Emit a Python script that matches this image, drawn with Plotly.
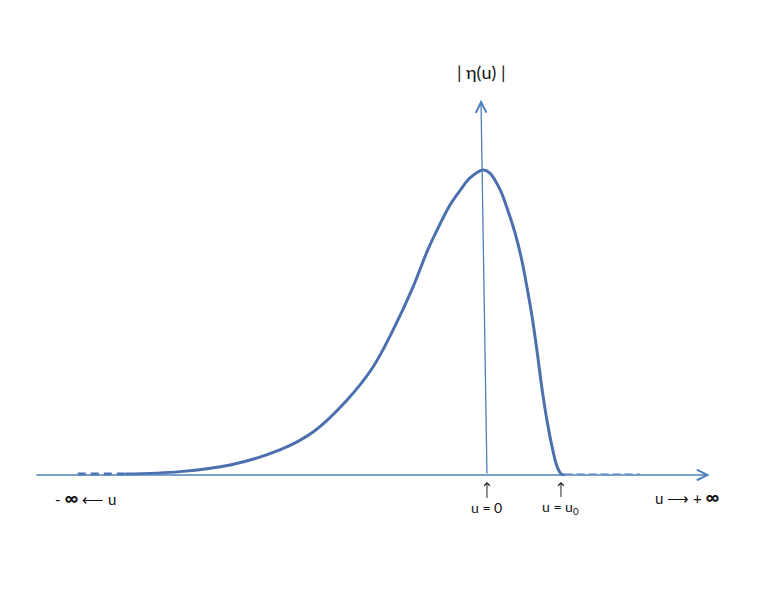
import plotly.graph_objects as go

# curve |eta(u)|, u0 = 1, peak height = 1
u_vals = [-4.89, -4.15, -3.47, -2.80, -2.35, -1.89, -1.54, -1.27, -1.00, -0.80,
          -0.64, -0.50, -0.36, -0.23, -0.05, 0.04, 0.18, 0.28, 0.38, 0.47,
          0.54, 0.61, 0.68, 0.74, 0.81, 0.88, 0.95, 1.01, 1.05]
eta_vals = [0.003, 0.011, 0.033, 0.082, 0.141, 0.246, 0.354, 0.475, 0.616, 0.738,
            0.820, 0.885, 0.934, 0.974, 1.000, 0.990, 0.934, 0.869, 0.793, 0.705,
            0.616, 0.518, 0.400, 0.289, 0.180, 0.092, 0.026, 0.002, 0.002]

# dashed tails towards -inf and +inf
tail_left_u = [-5.53, -4.89]
tail_left_eta = [0.003, 0.003]
tail_right_u = [1.05, 2.07]
tail_right_eta = [0.003, 0.003]

# axes ends
x_axis_u = [-6.11, 3.01]
y_axis_top = (-0.081, 1.23)

AXIS_COLOR = '#4f81bd'
CURVE_COLOR = '#4b70ad'
FONT = 'Lato, Liberation Sans, sans-serif'

fig = go.Figure()

fig.add_trace(go.Scatter(
    x=tail_left_u, y=tail_left_eta, mode='lines',
    line=dict(color=CURVE_COLOR, width=3, dash='8px,5px'),
    hoverinfo='skip'
))
fig.add_trace(go.Scatter(
    x=tail_right_u, y=tail_right_eta, mode='lines',
    line=dict(color='#9db8de', width=2, dash='8px,4px'),
    hoverinfo='skip'
))
fig.add_trace(go.Scatter(
    x=u_vals, y=eta_vals, mode='lines',
    line=dict(color=CURVE_COLOR, width=3, shape='spline', smoothing=1.0),
    hovertemplate='u=%{x}<br>|η|=%{y}<extra></extra>'
))

# horizontal axis with arrow
fig.add_annotation(
    x=x_axis_u[1], y=0, ax=x_axis_u[0], ay=0,
    xref='x', yref='y', axref='x', ayref='y',
    text='', showarrow=True, arrowhead=5, arrowsize=1.6, arrowwidth=1.3,
    arrowcolor=AXIS_COLOR
)
# vertical axis with arrow
fig.add_annotation(
    x=y_axis_top[0], y=y_axis_top[1], ax=0, ay=0,
    xref='x', yref='y', axref='x', ayref='y',
    text='', showarrow=True, arrowhead=5, arrowsize=1.6, arrowwidth=1.3,
    arrowcolor=AXIS_COLOR
)

# markers under the axis
fig.add_annotation(
    x=0, y=-0.023, ax=0, ay=-0.108,
    xref='x', yref='y', axref='x', ayref='y',
    text='u = 0', showarrow=True, arrowhead=4, arrowsize=1.1, arrowwidth=1,
    arrowcolor='#222222', font=dict(family=FONT, size=14, color='#111111')
)
fig.add_annotation(
    x=1.0, y=-0.023, ax=1.0, ay=-0.108,
    xref='x', yref='y', axref='x', ayref='y',
    text='u = u<sub>0</sub>', showarrow=True, arrowhead=4, arrowsize=1.1,
    arrowwidth=1, arrowcolor='#222222',
    font=dict(family=FONT, size=14, color='#111111')
)

fig.add_annotation(
    x=-5.43, y=-0.075, xref='x', yref='y', showarrow=False,
    text='- <span style="font-size:19px"><b>∞</b></span> ⟵ u',
    font=dict(family=FONT, size=15, color='#111111')
)
fig.add_annotation(
    x=2.71, y=-0.072, xref='x', yref='y', showarrow=False,
    text='u ⟶ + <span style="font-size:19px"><b>∞</b></span>',
    font=dict(family=FONT, size=15, color='#111111')
)
fig.add_annotation(
    x=-0.08, y=1.321, xref='x', yref='y', showarrow=False,
    text='| η(u) |', font=dict(family=FONT, size=18, color='#111111')
)

# the page body adds an 8px offset, the ranges below absorb it
fig.update_layout(
    width=776, height=599,
    margin=dict(l=0, r=0, t=0, b=0),
    plot_bgcolor='white', paper_bgcolor='white',
    showlegend=False,
    xaxis=dict(range=[-6.473, 4.014], visible=False, fixedrange=True),
    yaxis=dict(range=[-0.4328, 1.531], visible=False, fixedrange=True),
)

fig.write_html("out.html")
